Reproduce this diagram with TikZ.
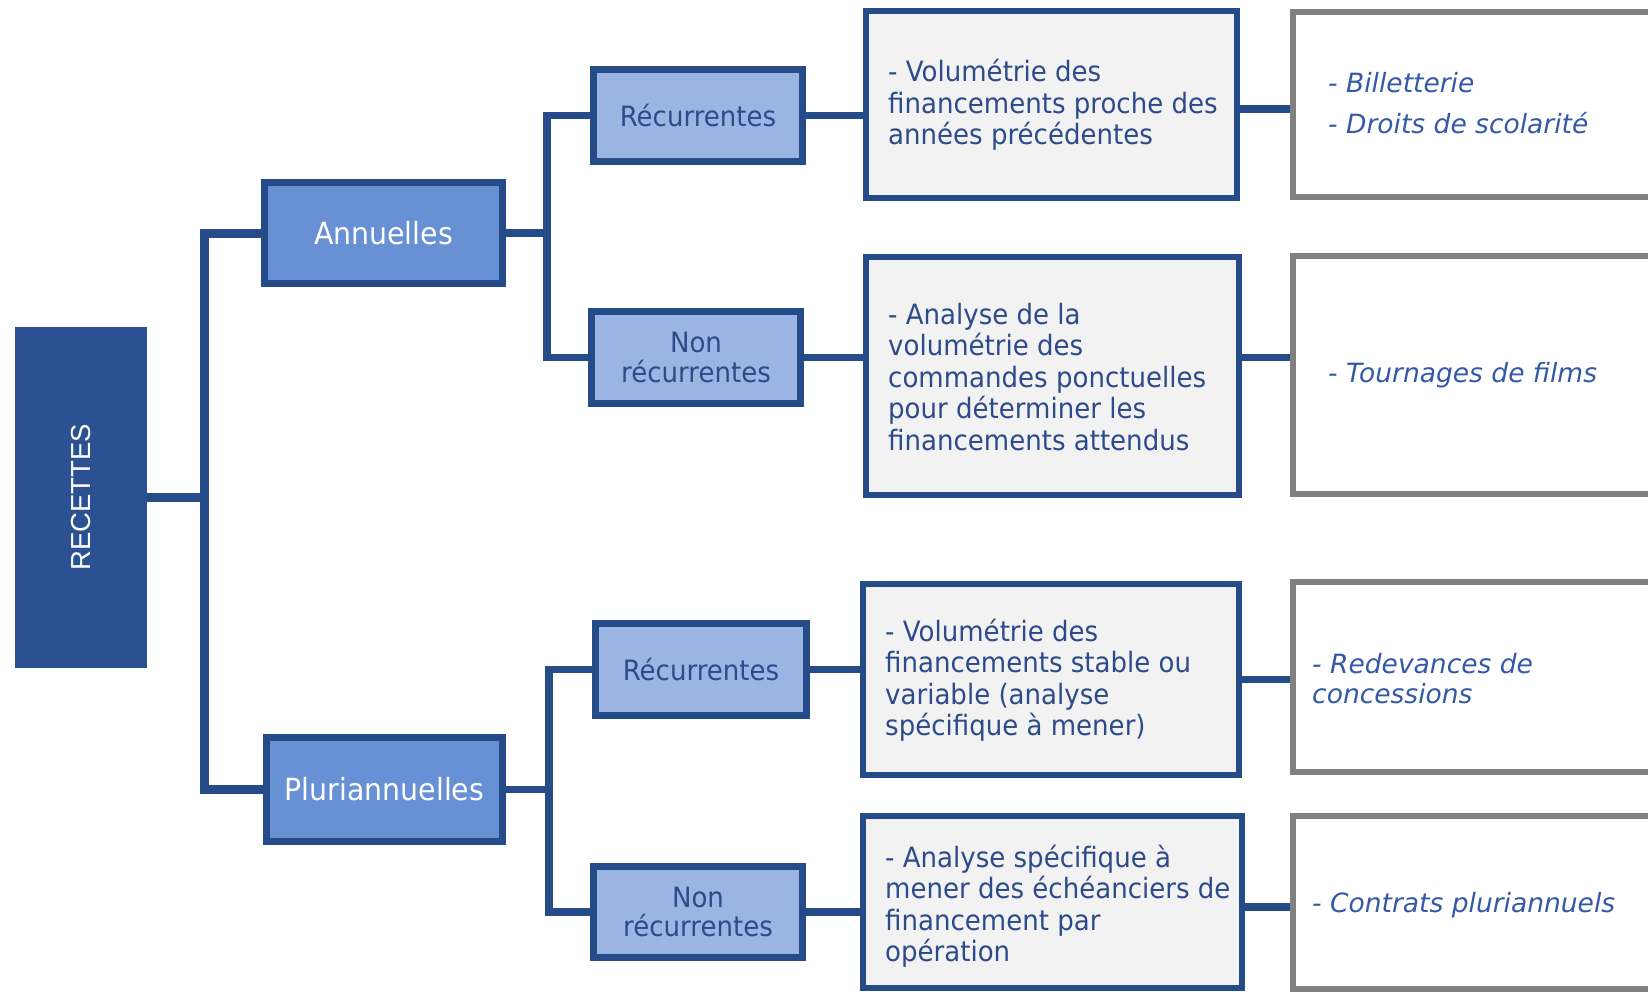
\documentclass[tikz,border=0pt]{standalone}
\usepackage{fontspec}
\setmainfont{DejaVu Sans}
\newfontfamily\tah{DejaVu Sans}[FakeStretch=0.93]
\newfontfamily\verd{DejaVu Sans}
\newfontfamily\arialf{Liberation Sans}
\definecolor{navy}{HTML}{2B5192}
\definecolor{bord}{HTML}{264B89}
\definecolor{annfill}{HTML}{6890D4}
\definecolor{recfill}{HTML}{9BB5E3}
\definecolor{descfill}{HTML}{F2F2F2}
\definecolor{grayb}{HTML}{808080}
\definecolor{txt}{HTML}{2D4B8A}
\definecolor{ital}{HTML}{3459A6}
\tikzset{
  conn/.style={draw=bord, line width=7.5pt},
  trunk/.style={draw=bord, line width=9pt},
  topbox/.style={draw=bord, line width=7pt, fill=annfill, text=white, inner sep=0pt,
    font=\tah\fontsize{30.5}{34}\selectfont, align=center},
  subbox/.style={draw=bord, line width=7pt, fill=recfill, text=txt, inner sep=0pt,
    font=\tah\fontsize{28}{29.5}\selectfont, align=center},
  descbox/.style={draw=bord, line width=6pt, fill=descfill, inner sep=0pt},
  desctext/.style={anchor=west, inner sep=0pt, align=left, text=txt,
    font=\tah\fontsize{28}{31.5}\selectfont},
  exbox/.style={draw=grayb, line width=6pt, fill=white, inner sep=0pt},
  extext/.style={anchor=west, inner sep=0pt, align=left, text=ital,
    font=\verd\itshape\fontsize{26.5}{30}\selectfont},
}
\begin{document}
\begin{tikzpicture}[x=1pt,y=-1pt]
\useasboundingbox (0,0) rectangle (1648,993);
\fill[white] (0,0) rectangle (1648,993);
\clip (0,0) rectangle (1648,993);

% root
\node[fill=navy, minimum width=132, minimum height=341, inner sep=0pt, text=white,
  font=\arialf\fontsize{27.5}{30}\selectfont] (rec) at (81,497.5) {\rotatebox{90}{RECETTES}};

% level 1
\node[topbox, minimum width=238, minimum height=101] (ann) at (383.5,233) {Annuelles};
\node[topbox, minimum width=236, minimum height=104] (plu) at (384.5,789.5) {Pluriannuelles};

% level 2
\node[subbox, minimum width=209, minimum height=92] (r1) at (698,115.5) {Récurrentes};
\node[subbox, minimum width=209, minimum height=92] (n1) at (696,357.5) {Non\\récurrentes};
\node[subbox, minimum width=211, minimum height=92] (r2) at (701,669.5) {Récurrentes};
\node[subbox, minimum width=209, minimum height=91] (n2) at (698,912) {Non\\récurrentes};

% descriptions
\node[descbox, minimum width=371, minimum height=187] (d1) at (1051.5,104.5) {};
\node[descbox, minimum width=373, minimum height=238] (d2) at (1052.5,376) {};
\node[descbox, minimum width=376, minimum height=191] (d3) at (1051,679.5) {};
\node[descbox, minimum width=379, minimum height=172] (d4) at (1052.5,902) {};

\node[desctext] (t1) at (888,105) {- Volumétrie des\\financements proche des\\années précédentes};
\node[desctext] (t2) at (888,377) {- Analyse de la\\volumétrie des\\commandes ponctuelles\\pour déterminer les\\financements attendus};
\node[desctext] (t3) at (885,680) {- Volumétrie des\\financements stable ou\\variable (analyse\\spécifique à mener)};
\node[desctext] (t4) at (885,906) {- Analyse spécifique à\\mener des échéanciers de\\financement par\\opération};

% examples
\node[exbox, minimum width=420, minimum height=185] (g1) at (1503,104.5) {};
\node[exbox, minimum width=420, minimum height=238] (g2) at (1503,375) {};
\node[exbox, minimum width=420, minimum height=190] (g3) at (1503,677) {};
\node[exbox, minimum width=420, minimum height=173] (g4) at (1503,902.5) {};

\node[extext] (e1) at (1328,103.5) {- Billetterie\\[11pt]- Droits de scolarité};
\node[extext] (e2) at (1328,375) {- Tournages de films};
\node[extext] (e3) at (1312,679) {- Redevances de\\concessions};
\node[extext] (e4) at (1312,905) {- Contrats pluriannuels};

% connectors
\coordinate (tr) at (204,497.5);
\coordinate (b1) at (547,233);
\coordinate (b2) at (549,789.5);
\draw[trunk] (rec.east) -- (tr);
\draw[trunk] (ann.west) -| (tr) |- (plu.west);
\draw[conn] (ann.east) -- (b1);
\draw[conn] (r1.west) -| (b1) |- (n1.west);
\draw[conn] (plu.east) -- (b2);
\draw[conn] (r2.west) -| (b2) |- (n2.west);

\draw[conn] (r1.east) -- (r1.east -| d1.west);
\draw[conn] (n1.east) -- (n1.east -| d2.west);
\draw[conn] (r2.east) -- (r2.east -| d3.west);
\draw[conn] (n2.east) -- (n2.east -| d4.west);

\coordinate (c1) at ([yshift=-4.5pt]d1.east);
\coordinate (c4) at ([yshift=-5pt]d4.east);
\draw[conn] (c1) -- (c1 -| g1.west);
\draw[conn] (d2.east |- n1) -- (g2.west |- n1);
\draw[conn] (d3.east) -- (d3.east -| g3.west);
\draw[conn] (c4) -- (c4 -| g4.west);
\end{tikzpicture}
\end{document}
